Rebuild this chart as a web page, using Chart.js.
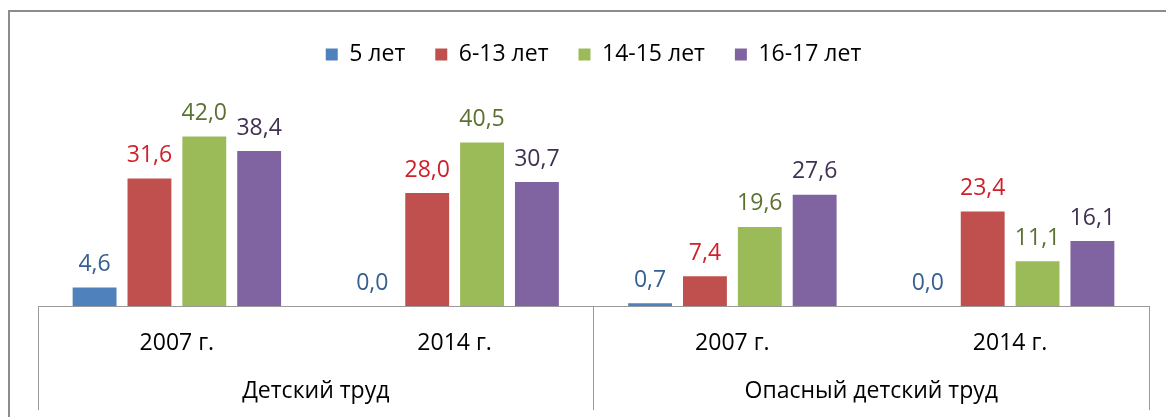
<!DOCTYPE html>
<html>
<head>
<meta charset="utf-8">
<script src="https://cdn.jsdelivr.net/npm/chart.js@4/dist/chart.umd.min.js"></script>
<style>
    body { margin: 0; background: #fff; overflow: hidden; }
    #wrap { position: absolute; left: 0; top: 0; width: 1166px; height: 417px; }
    #frame { position: absolute; left: 8px; top: 10px; width: 1200px; height: 450px;
             border: 2px solid #8c8c8c; pointer-events: none; }
</style>
</head>
<body>
<div id="wrap"><canvas id="laborChart"></canvas></div>
<div id="frame"></div>
<script>
const years = ['2007 г.', '2014 г.', '2007 г.', '2014 г.'];
const groups = ['Детский труд', 'Опасный детский труд'];
const ageGroups = ['5 лет', '6-13 лет', '14-15 лет', '16-17 лет'];

const age5 = [4.6, 0.0, 0.7, 0.0];
const age6to13 = [31.6, 28.0, 7.4, 23.4];
const age14to15 = [42.0, 40.5, 19.6, 11.1];
const age16to17 = [38.4, 30.7, 27.6, 16.1];

const barColors = ['#4f81bd', '#c0504d', '#9bbb59', '#8064a2'];
const labelColors = ['#376092', '#d0202a', '#5b7131', '#403152'];
const font = '"Open Sans", sans-serif';

// value labels above each bar, decimal comma
const valueLabels = {
    id: 'valueLabels',
    afterDatasetsDraw(chart) {
        const ctx = chart.ctx;
        ctx.save();
        ctx.font = '23px ' + font;
        ctx.textAlign = 'center';
        ctx.textBaseline = 'middle';
        chart.data.datasets.forEach((ds, i) => {
            ctx.fillStyle = labelColors[i];
            chart.getDatasetMeta(i).data.forEach((bar, j) => {
                ctx.fillText(ds.data[j].toFixed(1).replace('.', ','), bar.x, bar.y - 23);
            });
        });
        ctx.restore();
    }
};

const ctx = document.getElementById('laborChart').getContext('2d');
new Chart(ctx, {
    type: 'bar',
    data: {
        labels: years,
        datasets: [age5, age6to13, age14to15, age16to17].map((values, i) => ({
            label: ageGroups[i],
            data: values,
            backgroundColor: barColors[i],
            borderWidth: 0,
            categoryPercentage: 0.79,
            barPercentage: 0.8
        }))
    },
    options: {
        responsive: true,
        maintainAspectRatio: false,
        animation: false,
        layout: {
            padding: { top: 13, left: 38, right: 17, bottom: 3 }
        },
        scales: {
            x: {
                offset: true,
                grid: {
                    offset: true,
                    drawOnChartArea: false,
                    tickLength: 104,
                    color: c => (c.index === undefined || c.index % 2 === 0) ? '#9a9a9a' : 'rgba(0,0,0,0)'
                },
                border: { color: '#9a9a9a' },
                ticks: {
                    padding: -80,
                    color: '#000',
                    maxRotation: 0,
                    font: { family: font, size: 23 }
                },
                afterFit: scale => { scale.height = 58; }
            },
            x2: {
                type: 'category',
                position: 'bottom',
                labels: groups,
                offset: true,
                grid: { display: false, drawTicks: false },
                border: { display: false },
                ticks: {
                    padding: 14,
                    color: '#000',
                    maxRotation: 0,
                    font: { family: font, size: 23 }
                },
                afterFit: scale => { scale.height = 50; }
            },
            y: {
                display: false,
                min: 0,
                max: 57
            }
        },
        plugins: {
            legend: {
                position: 'top',
                labels: {
                    boxWidth: 12,
                    boxHeight: 12,
                    padding: 30,
                    color: '#000',
                    font: { family: font, size: 23 }
                }
            },
            tooltip: { enabled: false }
        }
    },
    plugins: [valueLabels]
});
</script>
</body>
</html>
